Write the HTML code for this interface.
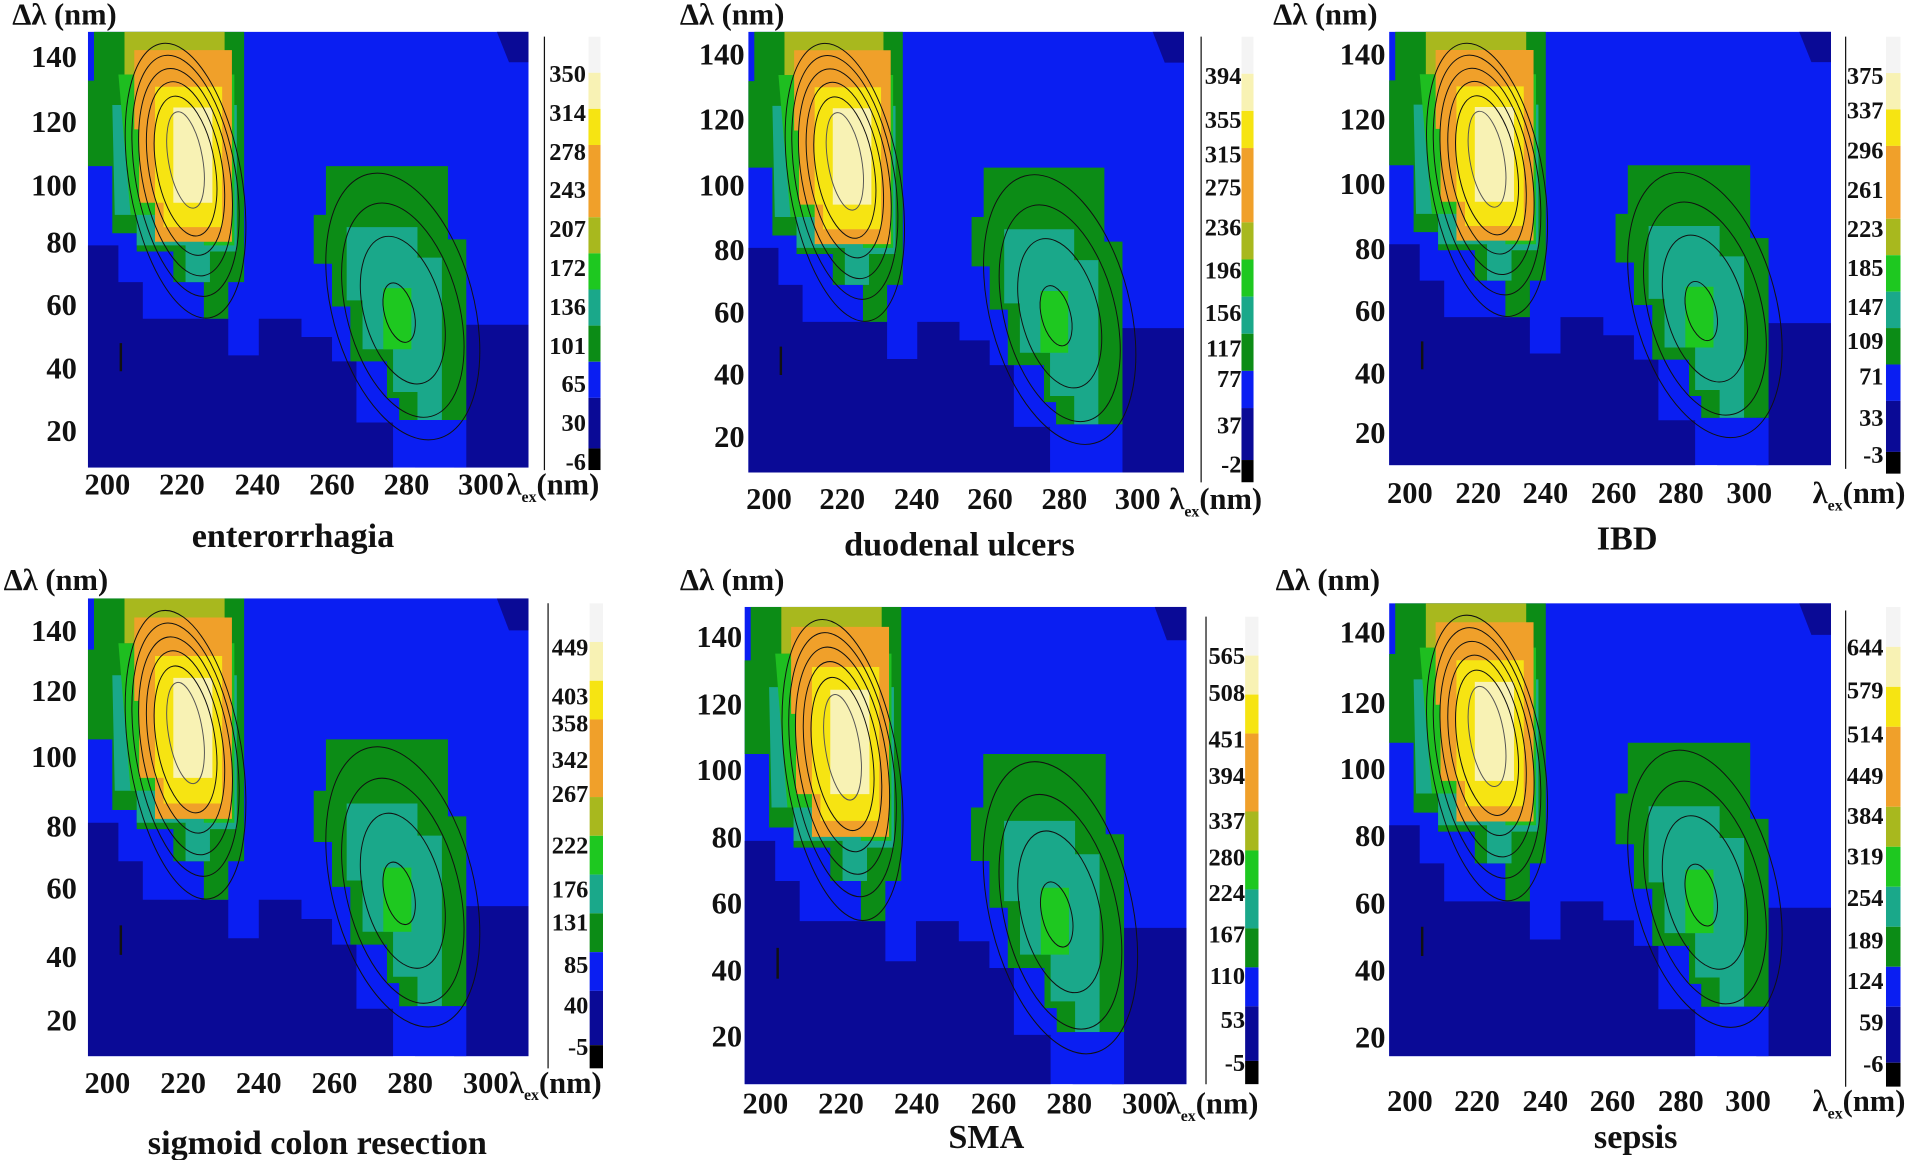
<!DOCTYPE html>
<html><head><meta charset="utf-8"><style>
html,body{margin:0;padding:0;background:#fff;}
svg{display:block;}
text{font-family:"Liberation Serif",serif;font-weight:bold;fill:#111;}
.t{font-size:25px;}
.c{font-size:20px;text-anchor:end;}
.ti{font-size:28px;text-anchor:middle;}
.ax{font-size:25px;}
</style></head><body>
<svg width="1914" height="1160" viewBox="0 0 1568 950" preserveAspectRatio="none" xmlns="http://www.w3.org/2000/svg">
<defs>
<symbol id="plot" viewBox="0 0 361 357" preserveAspectRatio="none">
<rect x="0" y="0" width="361" height="357" fill="#0a1ef2"/>
<polygon fill="#0a0a96" points="0,175 25,175 25,205 45,205 45,235 115,235 115,265 140,265 140,235 175,235 175,250 200,250 200,270 220,270 220,320 250,320 250,357 0,357"/>
<polygon fill="#0a0a96" points="300,240 361,240 361,357 300,357"/>
<polygon fill="#0a0a96" points="335,0 361,0 361,25 345,25"/>
<!-- left peak -->
<polygon fill="#0c8c16" points="5,0 128,0 128,205 115,205 115,235 95,235 95,205 70,205 70,180 40,180 40,165 20,165 20,110 0,110 0,40 5,40"/>
<polygon fill="#1aa88a" points="20,60 122,60 122,180 100,180 100,205 80,205 80,175 40,175 40,150 22,150"/>
<polygon fill="#1ebe20" points="25,35 120,35 120,175 95,175 95,150 35,150"/>
<polygon fill="#a8b81e" points="30,0 112,0 112,35 30,35"/>
<polygon fill="#f0a02a" points="38,15 118,15 118,172 55,172 55,140 42,140 42,80 38,80"/>
<polygon fill="#f6e412" points="55,45 110,45 110,160 62,160 62,140 55,140"/>
<polygon fill="#f8f2b4" points="70,62 102,62 102,140 70,140"/>
<!-- right peak -->
<polygon fill="#0c8c16" points="195,110 295,110 295,170 310,170 310,318 255,318 255,300 245,300 245,270 215,270 215,225 200,225 200,190 185,190 185,150 195,150"/>
<polygon fill="#1aa88a" points="212,160 270,160 270,185 290,185 290,318 270,318 270,295 250,295 250,260 225,260 225,220 212,220"/>
<polygon fill="#1ec820" points="242,210 265,210 265,260 242,260"/>
<rect x="268" y="318" width="42" height="39" fill="#0a1ef2"/>
<g fill="none" stroke="#111" stroke-width="0.8">
<ellipse cx="80" cy="105" rx="14" ry="40" transform="rotate(-10 80 105)" stroke="#555"/>
<ellipse cx="80" cy="110" rx="24" ry="58" transform="rotate(-10 80 110)"/>
<ellipse cx="80" cy="112" rx="30" ry="72" transform="rotate(-10 80 112)"/>
<ellipse cx="80" cy="115" rx="36" ry="86" transform="rotate(-10 80 115)"/>
<ellipse cx="80" cy="118" rx="41" ry="100" transform="rotate(-10 80 118)"/>
<ellipse cx="80" cy="122" rx="46" ry="114" transform="rotate(-10 80 122)"/>
<ellipse cx="255" cy="230" rx="12" ry="25" transform="rotate(-15 255 230)"/>
<ellipse cx="258" cy="228" rx="32" ry="62" transform="rotate(-15 258 228)"/>
<ellipse cx="258" cy="228" rx="46" ry="90" transform="rotate(-15 258 228)"/>
<ellipse cx="258" cy="225" rx="58" ry="112" transform="rotate(-15 258 225)"/>
</g>
<line x1="27" y1="255" x2="27" y2="278" stroke="#111" stroke-width="2"/>
</symbol>
<symbol id="cb" viewBox="0 0 10 120" preserveAspectRatio="none">
<rect x="0" y="0" width="10" height="10" fill="#f4f4f4"/>
<rect x="0" y="10" width="10" height="10" fill="#f8f2b4"/>
<rect x="0" y="20" width="10" height="10" fill="#f6e412"/>
<rect x="0" y="30" width="10" height="20" fill="#f0a02a"/>
<rect x="0" y="50" width="10" height="10" fill="#a8b81e"/>
<rect x="0" y="60" width="10" height="10" fill="#1ec820"/>
<rect x="0" y="70" width="10" height="10" fill="#1aa88a"/>
<rect x="0" y="80" width="10" height="10" fill="#0c8c16"/>
<rect x="0" y="90" width="10" height="10" fill="#0a1ef2"/>
<rect x="0" y="100" width="10" height="14" fill="#0a0a96"/>
<rect x="0" y="114" width="10" height="6" fill="#000"/>
</symbol>
</defs>

<!-- Panel 1 -->
<use href="#plot" x="72" y="26" width="361" height="357"/>
<use href="#cb" x="482" y="30" width="10" height="355"/>
<line x1="446" y1="30" x2="446" y2="385" stroke="#111"/>
<text class="ax" x="10" y="20">Δλ (nm)</text>
<g class="t" text-anchor="end"><text x="63" y="55">140</text><text x="63" y="108">120</text><text x="63" y="160">100</text><text x="63" y="207">80</text><text x="63" y="258">60</text><text x="63" y="310">40</text><text x="63" y="361">20</text></g>
<g class="t" text-anchor="middle"><text x="88" y="405">200</text><text x="149" y="405">220</text><text x="211" y="405">240</text><text x="272" y="405">260</text><text x="333" y="405">280</text><text x="394" y="405">300</text></g>
<text class="t" x="415" y="405">λ<tspan font-size="13" dy="6">ex</tspan><tspan dy="-6">(nm)</tspan></text>
<g class="c"><text x="480" y="67">350</text><text x="480" y="99">314</text><text x="480" y="131">278</text><text x="480" y="162">243</text><text x="480" y="194">207</text><text x="480" y="226">172</text><text x="480" y="258">136</text><text x="480" y="290">101</text><text x="480" y="321">65</text><text x="480" y="353">30</text><text x="480" y="385">-6</text></g>
<text class="ti" x="240" y="448">enterorrhagia</text>

<!-- Panel 2 -->
<use href="#plot" x="613" y="26" width="357" height="361"/>
<use href="#cb" x="1017" y="30" width="10" height="365"/>
<line x1="984" y1="30" x2="984" y2="395" stroke="#111"/>
<text class="ax" x="557" y="20">Δλ (nm)</text>
<g class="t" text-anchor="end"><text x="610" y="53">140</text><text x="610" y="106">120</text><text x="610" y="160">100</text><text x="610" y="213">80</text><text x="610" y="264">60</text><text x="610" y="315">40</text><text x="610" y="366">20</text></g>
<g class="t" text-anchor="middle"><text x="630" y="417">200</text><text x="690" y="417">220</text><text x="751" y="417">240</text><text x="811" y="417">260</text><text x="872" y="417">280</text><text x="932" y="417">300</text></g>
<text class="t" x="958" y="417">λ<tspan font-size="13" dy="6">ex</tspan><tspan dy="-6">(nm)</tspan></text>
<g class="c"><text x="1017" y="69">394</text><text x="1017" y="105">355</text><text x="1017" y="133">315</text><text x="1017" y="160">275</text><text x="1017" y="193">236</text><text x="1017" y="228">196</text><text x="1017" y="263">156</text><text x="1017" y="292">117</text><text x="1017" y="317">77</text><text x="1017" y="355">37</text><text x="1017" y="387">-2</text></g>
<text class="ti" x="786" y="455">duodenal ulcers</text>

<!-- Panel 3 -->
<use href="#plot" x="1138" y="26" width="362" height="355"/>
<use href="#cb" x="1545" y="30" width="12" height="358"/>
<line x1="1512" y1="30" x2="1512" y2="384" stroke="#111"/>
<text class="ax" x="1043" y="20">Δλ (nm)</text>
<g class="t" text-anchor="end"><text x="1135" y="53">140</text><text x="1135" y="106">120</text><text x="1135" y="159">100</text><text x="1135" y="212">80</text><text x="1135" y="263">60</text><text x="1135" y="314">40</text><text x="1135" y="363">20</text></g>
<g class="t" text-anchor="middle"><text x="1155" y="412">200</text><text x="1211" y="412">220</text><text x="1266" y="412">240</text><text x="1322" y="412">260</text><text x="1377" y="412">280</text><text x="1433" y="412">300</text></g>
<text class="t" x="1485" y="412">λ<tspan font-size="13" dy="6">ex</tspan><tspan dy="-6">(nm)</tspan></text>
<g class="c"><text x="1543" y="69">375</text><text x="1543" y="97">337</text><text x="1543" y="130">296</text><text x="1543" y="162">261</text><text x="1543" y="194">223</text><text x="1543" y="226">185</text><text x="1543" y="258">147</text><text x="1543" y="286">109</text><text x="1543" y="315">71</text><text x="1543" y="349">33</text><text x="1543" y="379">-3</text></g>
<text class="ti" x="1333" y="450">IBD</text>

<!-- Panel 4 -->
<use href="#plot" x="72" y="490" width="361" height="375"/>
<use href="#cb" x="483" y="494" width="11" height="381"/>
<line x1="449" y1="494" x2="449" y2="875" stroke="#111"/>
<text class="ax" x="3" y="483">Δλ (nm)</text>
<g class="t" text-anchor="end"><text x="63" y="525">140</text><text x="63" y="574">120</text><text x="63" y="628">100</text><text x="63" y="685">80</text><text x="63" y="736">60</text><text x="63" y="792">40</text><text x="63" y="844">20</text></g>
<g class="t" text-anchor="middle"><text x="88" y="895">200</text><text x="150" y="895">220</text><text x="212" y="895">240</text><text x="274" y="895">260</text><text x="336" y="895">280</text><text x="398" y="895">300</text></g>
<text class="t" x="417" y="895">λ<tspan font-size="13" dy="6">ex</tspan><tspan dy="-6">(nm)</tspan></text>
<g class="c"><text x="482" y="537">449</text><text x="482" y="577">403</text><text x="482" y="599">358</text><text x="482" y="629">342</text><text x="482" y="657">267</text><text x="482" y="699">222</text><text x="482" y="735">176</text><text x="482" y="762">131</text><text x="482" y="797">85</text><text x="482" y="830">40</text><text x="482" y="864">-5</text></g>
<text class="ti" x="260" y="945">sigmoid colon resection</text>

<!-- Panel 5 -->
<use href="#plot" x="610" y="497" width="362" height="391"/>
<use href="#cb" x="1020" y="505" width="11" height="383"/>
<line x1="988" y1="505" x2="988" y2="888" stroke="#111"/>
<text class="ax" x="557" y="483">Δλ (nm)</text>
<g class="t" text-anchor="end"><text x="608" y="530">140</text><text x="608" y="585">120</text><text x="608" y="639">100</text><text x="608" y="694">80</text><text x="608" y="748">60</text><text x="608" y="803">40</text><text x="608" y="857">20</text></g>
<g class="t" text-anchor="middle"><text x="627" y="912">200</text><text x="689" y="912">220</text><text x="751" y="912">240</text><text x="814" y="912">260</text><text x="876" y="912">280</text><text x="938" y="912">300</text></g>
<text class="t" x="955" y="912">λ<tspan font-size="13" dy="6">ex</tspan><tspan dy="-6">(nm)</tspan></text>
<g class="c"><text x="1020" y="544">565</text><text x="1020" y="574">508</text><text x="1020" y="612">451</text><text x="1020" y="642">394</text><text x="1020" y="679">337</text><text x="1020" y="709">280</text><text x="1020" y="738">224</text><text x="1020" y="772">167</text><text x="1020" y="806">110</text><text x="1020" y="842">53</text><text x="1020" y="877">-5</text></g>
<text class="ti" x="808" y="940">SMA</text>

<!-- Panel 6 -->
<use href="#plot" x="1138" y="494" width="362" height="371"/>
<use href="#cb" x="1545" y="497" width="12" height="393"/>
<line x1="1512" y1="500" x2="1512" y2="890" stroke="#111"/>
<text class="ax" x="1045" y="483">Δλ (nm)</text>
<g class="t" text-anchor="end"><text x="1135" y="526">140</text><text x="1135" y="584">120</text><text x="1135" y="638">100</text><text x="1135" y="693">80</text><text x="1135" y="748">60</text><text x="1135" y="803">40</text><text x="1135" y="858">20</text></g>
<g class="t" text-anchor="middle"><text x="1155" y="910">200</text><text x="1210" y="910">220</text><text x="1266" y="910">240</text><text x="1321" y="910">260</text><text x="1377" y="910">280</text><text x="1432" y="910">300</text></g>
<text class="t" x="1485" y="910">λ<tspan font-size="13" dy="6">ex</tspan><tspan dy="-6">(nm)</tspan></text>
<g class="c"><text x="1543" y="537">644</text><text x="1543" y="572">579</text><text x="1543" y="608">514</text><text x="1543" y="642">449</text><text x="1543" y="675">384</text><text x="1543" y="708">319</text><text x="1543" y="742">254</text><text x="1543" y="777">189</text><text x="1543" y="810">124</text><text x="1543" y="844">59</text><text x="1543" y="878">-6</text></g>
<text class="ti" x="1340" y="940">sepsis</text>
</svg>
</body></html>
